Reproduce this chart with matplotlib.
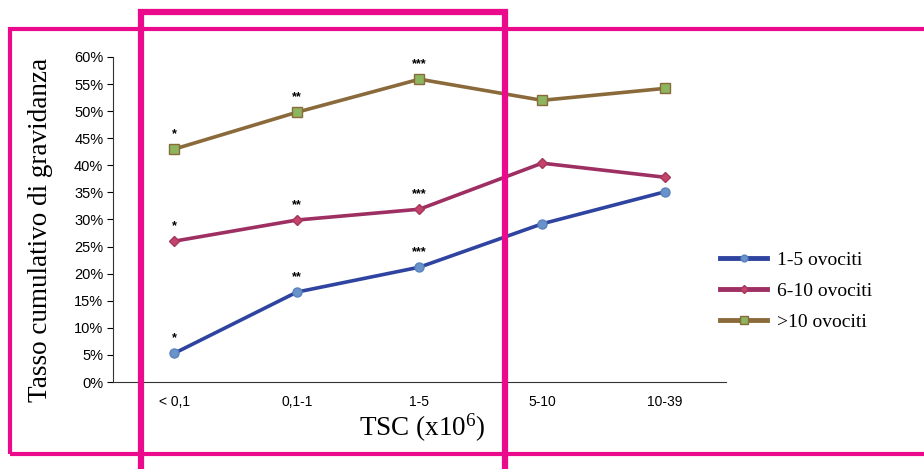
import matplotlib.pyplot as plt
from matplotlib.patches import Rectangle
import numpy as np

# Data
categories = ['< 0,1', '0,1-1', '1-5', '5-10', '10-39']
ovo_1_5 = [5.3, 16.6, 21.2, 29.2, 35.1]
ovo_6_10 = [26.0, 29.9, 31.9, 40.4, 37.8]
ovo_10p = [43.0, 49.8, 55.9, 52.0, 54.2]
stars = ['*', '**', '***']

SANS = 'Liberation Sans'
SERIF = 'Liberation Serif'
PINK = '#ec0a8c'

plt.rcParams['mathtext.fontset'] = 'custom'
plt.rcParams['mathtext.rm'] = SERIF
plt.rcParams['mathtext.it'] = SERIF

fig = plt.figure(figsize=(9.24, 4.69), dpi=100)
ax = fig.add_axes([0.1223, 0.1855, 0.6634, 0.693])

x = np.arange(len(categories))
ax.plot(x, ovo_1_5, color='#2e44a0', lw=2.6, marker='o', ms=6.5,
        mfc='#6a93cc', mec='#5a83bc', label='1-5 ovociti', zorder=3)
ax.plot(x, ovo_6_10, color='#9e2f62', lw=2.6, marker='D', ms=5.5,
        mfc='#c2446a', mec='#a8365c', label='6-10 ovociti', zorder=3)
ax.plot(x, ovo_10p, color='#8a6a3a', lw=2.6, marker='s', ms=7,
        mfc='#8cb55e', mec='#8a6a3a', mew=1, label='>10 ovociti', zorder=3)

# significance marks on first three points of each series
for series in (ovo_1_5, ovo_6_10, ovo_10p):
    for i, s in enumerate(stars):
        ax.text(x[i], series[i] + 1.6, s, ha='center', va='bottom',
                fontsize=9, fontweight='bold', family=SANS)

ax.set_xlim(-0.5, 4.5)
ax.set_ylim(0, 60)
ax.set_yticks(range(0, 61, 5))
ax.set_yticklabels([f'{v}%' for v in range(0, 61, 5)], family=SANS, fontsize=10.5)
ax.set_xticks(x)
ax.set_xticklabels(categories, family=SANS, fontsize=10)
ax.tick_params(axis='x', length=0, pad=9)
ax.tick_params(axis='y', length=4, direction='out', pad=3)
for side in ('top', 'right'):
    ax.spines[side].set_visible(False)
ax.spines['left'].set_color('#333333')
ax.spines['bottom'].set_color('#333333')

ax.set_ylabel('Tasso cumulativo di gravidanza', family=SERIF, fontsize=19.5)
ax.yaxis.set_label_coords(-0.098, 0.468)
ax.set_xlabel('TSC (x10$^{6}$)', family=SERIF, fontsize=19.5)
ax.xaxis.set_label_coords(0.504, -0.09)

leg = ax.legend(loc='center left', bbox_to_anchor=(0.9625, 0.28), frameon=False,
                prop={'family': SERIF, 'size': 14}, handlelength=2.4,
                handletextpad=0.5, labelspacing=0.7, markerscale=0.75)
for line in leg.get_lines():
    line.set_linewidth(3.5)

# pink highlight boxes
fig.patches.append(Rectangle((0.0108, 0.032), 1.05, 0.906, transform=fig.transFigure,
                             fill=False, ec=PINK, lw=3, zorder=10))
fig.patches.append(Rectangle((0.1526, -0.05), 0.394, 1.024, transform=fig.transFigure,
                             fill=False, ec=PINK, lw=4.5, zorder=10))

fig.savefig('out.png', dpi=100)
